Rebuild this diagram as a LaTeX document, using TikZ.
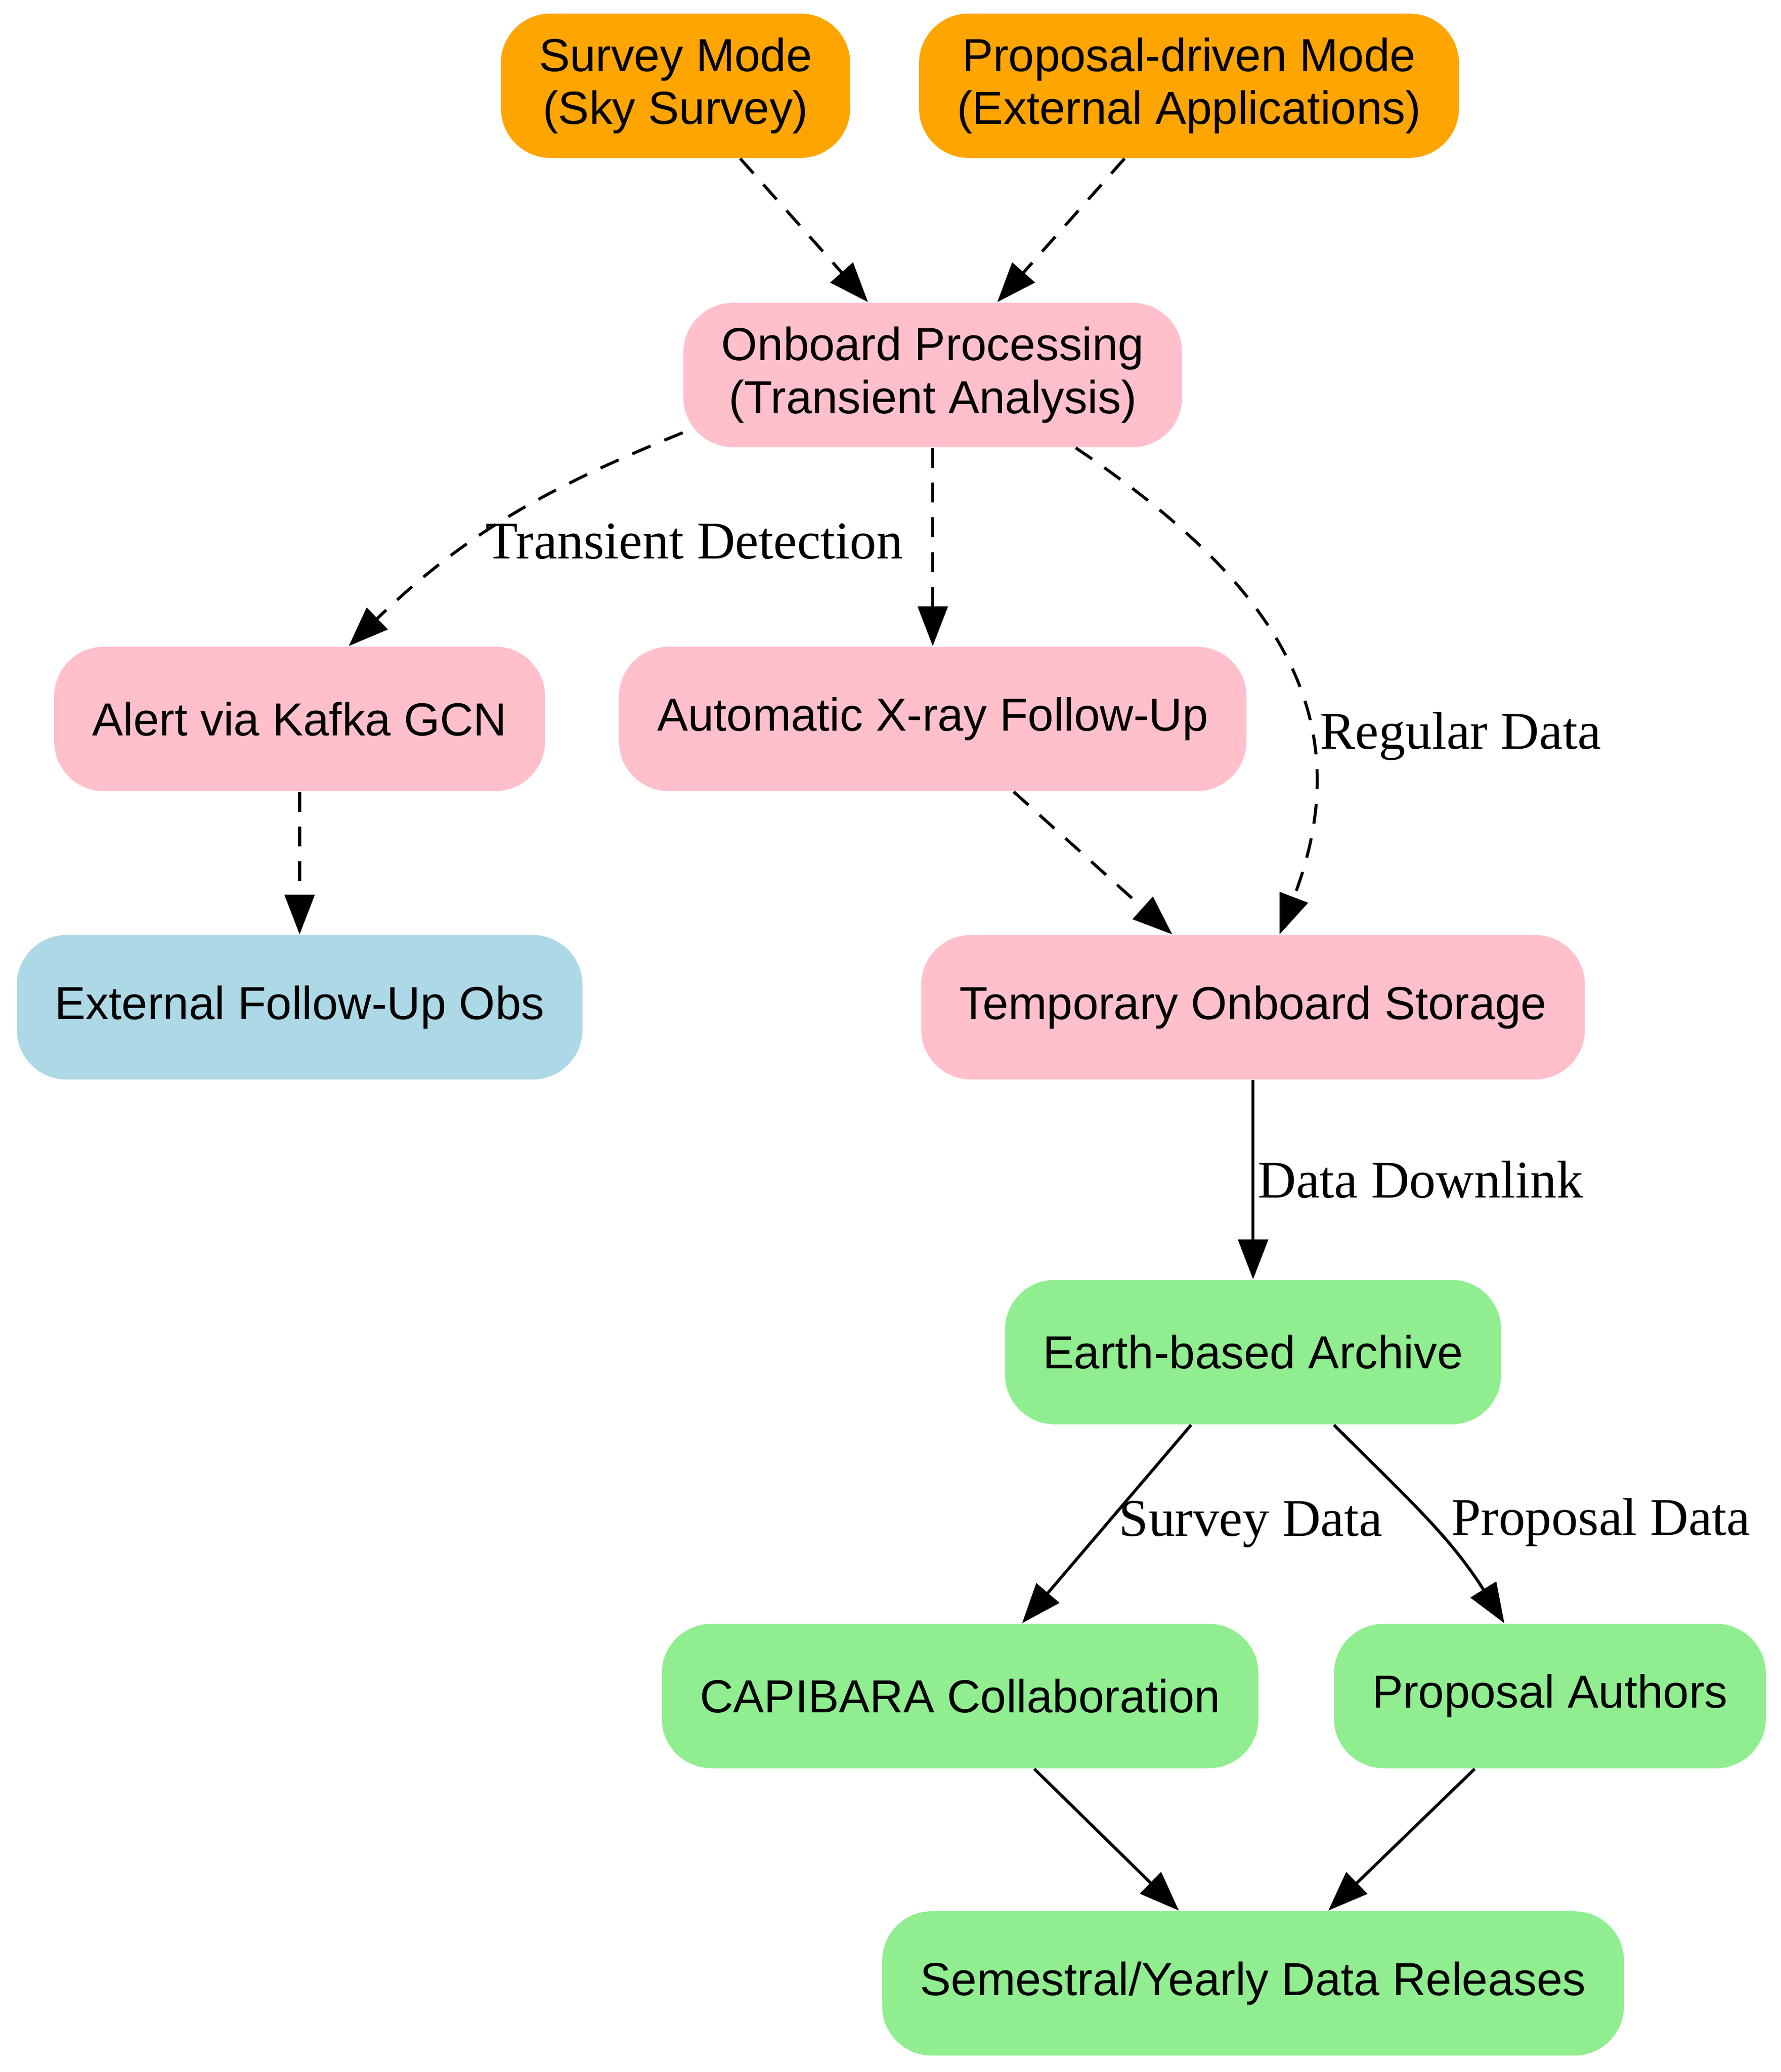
\documentclass[tikz,border=0pt]{standalone}
\usepackage{fontspec}
\setmainfont{Liberation Serif}
\setsansfont{Liberation Sans}
\usetikzlibrary{arrows.meta}
\definecolor{gvorange}{RGB}{255,165,0}
\definecolor{gvpink}{RGB}{255,192,203}
\definecolor{gvblue}{RGB}{173,216,230}
\definecolor{gvgreen}{RGB}{144,238,144}
\begin{document}
\begin{tikzpicture}[
    block/.style={rounded corners=15pt, minimum height=43.6pt, inner xsep=11.5pt,
      align=center, font=\sffamily\fontsize{14}{16}\selectfont},
    modeblock/.style={block, fill=gvorange},
    spaceblock/.style={block, fill=gvpink},
    extblock/.style={block, fill=gvblue},
    groundblock/.style={block, fill=gvgreen},
    link/.style={-{Triangle[length=12pt,width=9pt]}, line width=0.9pt},
    flow/.style={link, dash pattern=on 6pt off 4.5pt},
    lbl/.style={font=\rmfamily\fontsize{16}{18}\selectfont}
  ]
        \useasboundingbox (0,0) rectangle (18.90,21.99);

        \node [modeblock] (survey) at (7.17,21.08) {Survey Mode\\(Sky Survey)};
        \node [modeblock] (proposal) at (12.62,21.08) {Proposal-driven Mode\\(External Applications)};
        \node [spaceblock] (onboard) at (9.90,18.01) {Onboard Processing\\(Transient Analysis)};
        \node [spaceblock] (alert) at (3.18,14.36) {Alert via Kafka GCN};
        \node [spaceblock] (xray) at (9.90,14.36) {Automatic X-ray Follow-Up};
        \node [extblock] (external) at (3.18,11.30) {External Follow-Up Obs};
        \node [spaceblock] (storage) at (13.30,11.30) {Temporary Onboard Storage};
        \node [groundblock] (archive) at (13.30,7.64) {Earth-based Archive};
        \node [groundblock] (capibara) at (10.19,3.99) {CAPIBARA Collaboration};
        \node [groundblock] (authors) at (16.45,3.99) {Proposal Authors};
        \node [groundblock] (releases) at (13.30,0.94) {Semestral/Yearly Data Releases};

        \draw [flow] (survey) -- (onboard);
        \draw [flow] (proposal) -- (onboard);
        \draw [flow] (onboard.193) to [out=202, in=44]
          node [pos=0.6, right, lbl] {Transient Detection} (alert.56);
        \draw [flow] (onboard) -- (xray);
        \draw [flow] (onboard.333) to [out=326, in=69, looseness=1.15]
          node [pos=0.66, right, lbl] {Regular Data} (storage.70);
        \draw [flow] (alert) -- (external);
        \draw [flow] (xray) -- (storage);

        \draw [link] (storage) -- (archive) node [midway, right, inner sep=1pt, lbl] {Data Downlink};
        \draw [link] (archive) -- (capibara) node [midway, right, lbl] {Survey Data};
        \draw [link] (archive.318) to [out=315, in=122]
          node [pos=0.52, right, xshift=3pt, lbl] {Proposal Data} (authors.122);
        \draw [link] (capibara) -- (releases);
        \draw [link] (authors) -- (releases);
      \end{tikzpicture}
\end{document}
